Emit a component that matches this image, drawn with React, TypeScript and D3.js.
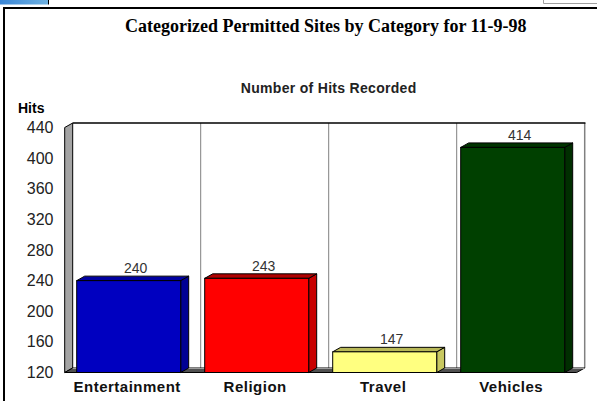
import React from "react";
import * as d3 from "d3";

const categories = ["Entertainment", "Religion", "Travel", "Vehicles"];
const hits = [240, 243, 147, 414];
const frontColors = ["#0000c0", "#ff0000", "#ffff80", "#004000"];
const sideColors = ["#000094", "#c80000", "#c8c860", "#002e00"];
const topColors = ["#0000a0", "#b00000", "#b8b858", "#003400"];
const yTicks = [120, 160, 200, 240, 280, 320, 360, 400, 440];
const title = "Categorized Permitted Sites by Category for 11-9-98";
const subtitle = "Number of Hits Recorded";
const yAxisTitle = "Hits";

const W = 597;
const H = 401;
const DX = 8;
const DY = -4.5;
const SANS = "Arial, 'Liberation Sans', sans-serif";
const SERIF = "'Times New Roman', 'Liberation Serif', serif";

export default function App() {
  const y = d3.scaleLinear().domain([120, 440]).range([372.5, 127.5]);
  const x = d3
    .scaleBand<string>()
    .domain(categories)
    .range([64.7, 576.7])
    .paddingInner(0.1875)
    .paddingOuter(0.09375);
  const step = x.step();
  const [fx0, fx1] = x.range();
  const yTop = y(440);
  const yBot = y(120);

  const bx0 = fx0 + DX;
  const bx1 = fx1 + DX;
  const byTop = yTop + DY;
  const byBot = yBot + DY;

  const gridXs = categories.slice(1).map((_, i) => bx0 + step * (i + 1));

  return (
    <svg
      width={W}
      height={H}
      style={{ position: "absolute", left: 0, top: 0, background: "#fff" }}
    >
      <defs>
        <linearGradient id="tb" x1="0" x2="1" y1="0" y2="0">
          <stop offset="0" stopColor="#3a86d6" />
          <stop offset="1" stopColor="#6fb2e2" />
        </linearGradient>
      </defs>
      {/* screenshot chrome */}
      <rect x={0} y={0} width={48} height={4.5} fill="url(#tb)" />
      <line x1={48.5} x2={48.5} y1={0} y2={4.5} stroke="#000" />
      <path d="M543.5,0 V3.5 H597" fill="none" stroke="#a0a0a0" />
      {/* frame */}
      <path d="M4,401 V8 H597" fill="none" stroke="#000" strokeWidth={2} />

      {/* titles */}
      <text
        x={325.8}
        y={31.5}
        textAnchor="middle"
        fontFamily={SERIF}
        fontWeight="bold"
        fontSize={18}
        fill="#000"
      >
        {title}
      </text>
      <text
        x={(bx0 + bx1) / 2}
        y={92.5}
        textAnchor="middle"
        fontFamily={SANS}
        fontWeight="bold"
        fontSize={14}
        letterSpacing={0.3}
        fill="#222"
      >
        {subtitle}
      </text>
      <text x={18} y={112.5} fontFamily={SANS} fontWeight="bold" fontSize={14} fill="#000">
        {yAxisTitle}
      </text>

      {/* back wall */}
      <rect x={bx0} y={byTop} width={bx1 - bx0} height={byBot - byTop} fill="#fff" />
      {gridXs.map((gx, i) => (
        <line key={i} x1={gx} x2={gx} y1={byTop} y2={byBot} stroke="#808080" strokeWidth={1} />
      ))}
      <line x1={bx1} x2={bx1} y1={byTop} y2={byBot} stroke="#808080" strokeWidth={1.5} />
      <line x1={bx0} x2={bx1 + 0.75} y1={byTop} y2={byTop} stroke="#000" strokeWidth={1.5} />

      {/* left wall */}
      <polygon
        points={`${fx0},${yTop} ${bx0},${byTop} ${bx0},${byBot} ${fx0},${yBot}`}
        fill="#a4a4a4"
        stroke="#000"
        strokeWidth={1}
      />
      {/* floor */}
      <polygon
        points={`${fx0},${yBot} ${bx0},${byBot} ${bx1},${byBot} ${fx1},${yBot}`}
        fill="#505050"
        stroke="#000"
        strokeWidth={1}
      />
      <line x1={bx0} x2={bx1} y1={byBot + 0.5} y2={byBot + 0.5} stroke="#9a9a9a" strokeWidth={1} />

      {/* y tick labels */}
      {yTicks.map((t) => (
        <text
          key={t}
          x={53.5}
          y={y(t)}
          textAnchor="end"
          dominantBaseline="central"
          fontFamily={SANS}
          fontSize={16}
          fill="#222"
        >
          {t}
        </text>
      ))}

      {/* bars */}
      {categories.map((c, i) => {
        const x0 = x(c) as number;
        const w = x.bandwidth();
        const yt = y(hits[i]);
        return (
          <g key={c}>
            <polygon
              points={`${x0 + w},${yt} ${x0 + w + DX},${yt + DY} ${x0 + w + DX},${yBot + DY} ${x0 + w},${yBot}`}
              fill={sideColors[i]}
              stroke="#000"
              strokeWidth={1}
              strokeLinejoin="round"
            />
            <polygon
              points={`${x0},${yt} ${x0 + DX},${yt + DY} ${x0 + w + DX},${yt + DY} ${x0 + w},${yt}`}
              fill={topColors[i]}
              stroke="#000"
              strokeWidth={1}
              strokeLinejoin="round"
            />
            <rect
              x={x0}
              y={yt}
              width={w}
              height={yBot - yt}
              fill={frontColors[i]}
              stroke="#000"
              strokeWidth={1}
            />
            <text
              x={x0 + w / 2 + 7}
              y={yt + DY - 3}
              textAnchor="middle"
              fontFamily={SANS}
              fontSize={14}
              fill="#333"
            >
              {hits[i]}
            </text>
            <text
              x={x0 + w / 2 - 1.5}
              y={391.5}
              textAnchor="middle"
              fontFamily={SANS}
              fontWeight="bold"
              fontSize={15}
              letterSpacing={0.5}
              fill="#111"
            >
              {c}
            </text>
          </g>
        );
      })}
    </svg>
  );
}
